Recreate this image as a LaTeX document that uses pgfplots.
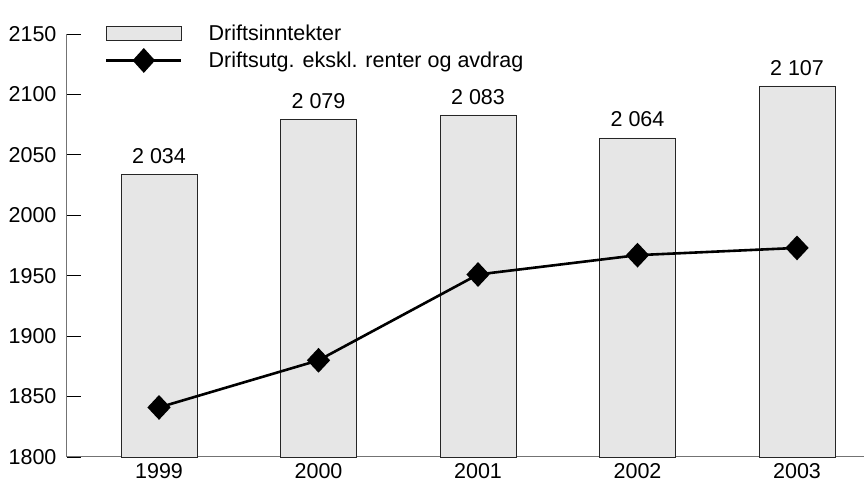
\documentclass[border=0pt]{standalone}
\usepackage{pgfplots}
\pgfplotsset{compat=1.18}
\usepackage{fontspec}
\setmainfont{Liberation Sans}
\definecolor{barfill}{HTML}{E6E6E6}
\begin{document}
\begin{tikzpicture}
\begin{axis}[
  name=ax,
  scale only axis, width=797pt, height=423pt,
  xmin=-0.577, xmax=4.42, ymin=1800, ymax=2150,
  axis lines=left,
  axis line style={-, draw=black!55, line width=1pt},
  xtick={0,1,2,3,4}, xticklabels={1999,2000,2001,2002,2003},
  ytick={1800,1850,...,2150},
  tick align=inside, major tick length=14pt,
  xtick style={draw=none},
  ytick style={draw=black, line width=0.8pt},
  ytick pos=left,
  font=\fontsize{21.5}{25}\selectfont,
  ticklabel style={font=\fontsize{21.5}{25}\selectfont},
  yticklabel style={xshift=-7pt},
  xticklabel style={yshift=-3pt},
  /pgf/number format/assume math mode=true,
  /pgf/number format/1000 sep={},
  legend style={draw=none, fill=none, inner sep=0pt, outer sep=0pt,
    at={(0.0477,1.027)}, anchor=north west, row sep=5pt,
    font=\fontsize{21.5}{25}\selectfont,
    /tikz/every odd column/.append style={column sep=24pt}},
  legend cell align=left,
  clip=false,
]
\addplot[ybar, bar width=76pt, fill=barfill, draw=black!85, line width=0.8pt,
  nodes near coords={\pgfmathprintnumber[1000 sep={\ }]{\pgfplotspointmeta}},
  nodes near coords style={font=\fontsize{21.5}{25}\selectfont, anchor=south, yshift=7pt, black},
  legend image code/.code={\draw[fill=barfill, draw=black!85, line width=0.8pt] (0pt,-7pt) rectangle (75pt,7pt);}]
  coordinates {(0,2034) (1,2079) (2,2083) (3,2064) (4,2107)};
\addlegendentry{Driftsinntekter}
\addplot[black, line width=2.6pt, mark=diamond*, mark size=10.5pt, mark options={xscale=1.25, solid},
  legend image code/.code={\draw[black, line width=2.6pt] (0pt,0pt) -- (75pt,0pt);
    \fill[black] (37.5pt,10.5pt) -- (47pt,0pt) -- (37.5pt,-10.5pt) -- (28pt,0pt) -- cycle;}]
  coordinates {(0,1841) (1,1880) (2,1951) (3,1967) (4,1973)};
\addlegendentry{Driftsutg. ekskl. renter og avdrag}
\end{axis}
\pgfresetboundingbox
\path[use as bounding box] ([xshift=-67pt,yshift=-25pt]ax.south west) rectangle ([yshift=34pt]ax.north east);
\end{tikzpicture}
\end{document}
